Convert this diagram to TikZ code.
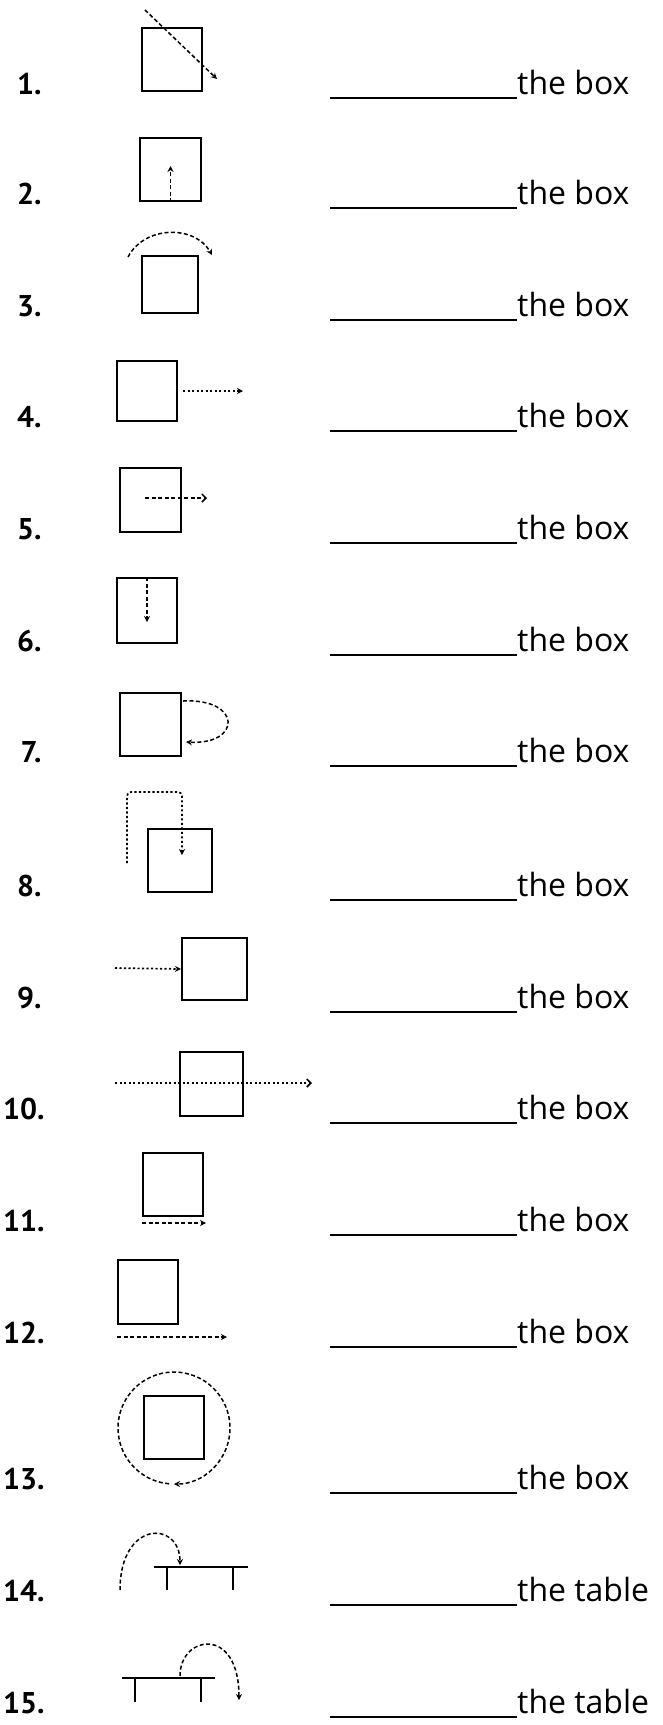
\documentclass[tikz,border=0pt]{standalone}
\usepackage{fontspec}
\setmainfont{Open Sans}
\newfontfamily\numfont{PT Sans}
\usetikzlibrary{arrows.meta}

\begin{document}
\begin{tikzpicture}[x=1pt, y=-1pt,
    thing/.style={draw, line width=2pt, inner sep=0pt},
    num/.style={anchor=base east, font=\numfont\bfseries\fontsize{30}{32}\selectfont},
    word/.style={anchor=south west, inner xsep=0pt, inner ysep=3pt, font=\fontsize{32}{36}\selectfont},
    blank/.style={line width=1.6pt},
    move/.style={line width=1.5pt, dash pattern=on 4pt off 2.5pt, -{Stealth[length=6pt, width=6pt]}},
    dots/.style={line width=1.7pt, dash pattern=on 2.2pt off 2.3pt, -{Stealth[length=6pt, width=6pt]}},
    barb/.style={-{Straight Barb[length=4pt, width=8pt]}},
    tabletop/.style={line width=1.8pt}
]
    \useasboundingbox (0,0) rectangle (663,1725);

    % Numbers
    \node[num] (n1) at (45,94) {1.};
    \node[num] (n2) at (45,204) {2.};
    \node[num] (n3) at (45,316) {3.};
    \node[num] (n4) at (45,427) {4.};
    \node[num] (n5) at (45,539) {5.};
    \node[num] (n6) at (45,651) {6.};
    \node[num] (n7) at (45,762) {7.};
    \node[num] (n8) at (45,896) {8.};
    \node[num] (n9) at (45,1008) {9.};
    \node[num] (n10) at (48,1119) {10.};
    \node[num] (n11) at (48,1231) {11.};
    \node[num] (n12) at (48,1343) {12.};
    \node[num] (n13) at (48,1489) {13.};
    \node[num] (n14) at (48,1601) {14.};
    \node[num] (n15) at (48,1713) {15.};

    % Boxes
    \node[thing, minimum width=60pt, minimum height=63pt] (b1) at (172,59.5) {};
    \node[thing, minimum width=61pt, minimum height=63pt] (b2) at (170.5,169.5) {};
    \node[thing, minimum width=56pt, minimum height=57pt] (b3) at (170,284.5) {};
    \node[thing, minimum width=60pt, minimum height=60pt] (b4) at (147,391) {};
    \node[thing, minimum width=61pt, minimum height=64pt] (b5) at (150.5,500) {};
    \node[thing, minimum width=60pt, minimum height=65pt] (b6) at (147,610.5) {};
    \node[thing, minimum width=61pt, minimum height=63pt] (b7) at (150.5,724.5) {};
    \node[thing, minimum width=64pt, minimum height=63pt] (b8) at (180,860.5) {};
    \node[thing, minimum width=65pt, minimum height=62pt] (b9) at (214.5,969) {};
    \node[thing, minimum width=63pt, minimum height=64pt] (b10) at (211.5,1084) {};
    \node[thing, minimum width=60pt, minimum height=63pt] (b11) at (173,1184.5) {};
    \node[thing, minimum width=60pt, minimum height=64pt] (b12) at (148,1292) {};
    \node[thing, minimum width=60pt, minimum height=63pt] (b13) at (174,1427.5) {};

    % Tables
    \draw[tabletop] (154,1567) -- (248,1567) (167,1567) -- (167,1590) (233,1567) -- (233,1590);
    \draw[tabletop] (122,1678) -- (215,1678) (135,1678) -- (135,1702) (201,1678) -- (201,1702);

    % Movements
    \draw[move] (145,10) -- (217,79);
    \draw[move] (b2.south) -- ++(0,-36);
    \draw[move] (128,257) .. controls (145,225) and (195,225) .. (212,255);
    \draw[dots] ([xshift=5pt]b4.east) -- ++(60,0);
    \draw[move, barb] (145,498) -- (207,498);
    \draw[move] (b6.north) -- ++(0,45);
    \draw[move] (183,701) .. controls (242,698) and (242,745) .. (186,742);
    \draw[dots, rounded corners=4pt] (127,863) -- (127,792) -- (182,792) -- (182,855);
    \draw[dots] (115,968) -- (b9.west);
    \draw[dots, barb] (115,1083) -- (312,1083);
    \draw[move] ([yshift=-6pt]b11.south west) -- ++(64,0);
    \draw[move] (117,1337) -- (227,1337);
    \draw[move] (174,1428) ++(95:56) arc[start angle=-265, end angle=90, radius=56];
    \draw[move] (120,1590) .. controls (120,1520) and (180,1520) .. (180,1565);
    \draw[move] (180,1676) .. controls (180,1635) and (239,1625) .. (239,1700);

    % Answers
    \node[word] (w1) at (517,98) {the box};
    \node[word] (w2) at (517,208) {the box};
    \node[word] (w3) at (517,320) {the box};
    \node[word] (w4) at (517,431) {the box};
    \node[word] (w5) at (517,543) {the box};
    \node[word] (w6) at (517,655) {the box};
    \node[word] (w7) at (517,766) {the box};
    \node[word] (w8) at (517,900) {the box};
    \node[word] (w9) at (517,1012) {the box};
    \node[word] (w10) at (517,1123) {the box};
    \node[word] (w11) at (517,1235) {the box};
    \node[word] (w12) at (517,1347) {the box};
    \node[word] (w13) at (517,1493) {the box};
    \node[word] (w14) at (517,1605) {the table};
    \node[word] (w15) at (517,1717) {the table};

    \draw[blank] (w1.south west) -- ++(-187,0);
    \draw[blank] (w2.south west) -- ++(-187,0);
    \draw[blank] (w3.south west) -- ++(-187,0);
    \draw[blank] (w4.south west) -- ++(-187,0);
    \draw[blank] (w5.south west) -- ++(-187,0);
    \draw[blank] (w6.south west) -- ++(-187,0);
    \draw[blank] (w7.south west) -- ++(-187,0);
    \draw[blank] (w8.south west) -- ++(-187,0);
    \draw[blank] (w9.south west) -- ++(-187,0);
    \draw[blank] (w10.south west) -- ++(-187,0);
    \draw[blank] (w11.south west) -- ++(-187,0);
    \draw[blank] (w12.south west) -- ++(-187,0);
    \draw[blank] (w13.south west) -- ++(-187,0);
    \draw[blank] (w14.south west) -- ++(-187,0);
    \draw[blank] (w15.south west) -- ++(-187,0);

\end{tikzpicture}
\end{document}
